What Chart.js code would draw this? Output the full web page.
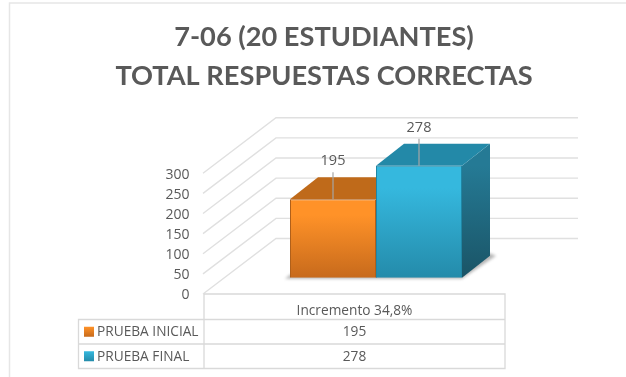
<!DOCTYPE html>
<html>
<head>
<meta charset="utf-8">
<style>
    html, body { margin: 0; padding: 0; background: #fff; }
    canvas { display: block; }
</style>
<script src="https://cdn.jsdelivr.net/npm/chart.js@4"></script>
</head>
<body>
<canvas id="chart" width="626" height="377"></canvas>
<script>
const titleLines = ['7-06 (20 ESTUDIANTES)', 'TOTAL RESPUESTAS CORRECTAS']
const categories = ['Incremento 34,8%']
const seriesNames = ['PRUEBA INICIAL', 'PRUEBA FINAL']
const pruebaInicial = [195]
const pruebaFinal = [278]
const tickValues = [0, 50, 100, 150, 200, 250, 300]

const textColor = '#595959'
const gridColor = '#E0E0E0'
const tableColor = '#D9D9D9'
const labelFont = '13.7px "Open Sans"'
const valueFont = '14.5px "Open Sans"'

// depth of the back wall and of the bars, in pixels
const wallDx = 73
const wallDy = 55.5
const barDx = 28
const barDy = 22

const orange = { top: '#FF9228', bottom: '#C76A1C', cap: '#BF6A1A', sideTop: '#A85C16', sideBottom: '#8A4A12', edge: '#B0601A' }
const blue = { top: '#35B8DE', bottom: '#248BAA', cap: '#2389A8', sideTop: '#257A95', sideBottom: '#1A5466', edge: '#1F86A4' }
const palette = [orange, blue]

function frontGradient(context) {
    const chart = context.chart
    const colors = palette[context.datasetIndex]
    if (!chart.chartArea) return colors.top
    const yScale = chart.scales.yBars
    const value = chart.data.datasets[context.datasetIndex].data[0]
    const g = chart.ctx.createLinearGradient(0, yScale.getPixelForValue(value), 0, yScale.getPixelForValue(0))
    g.addColorStop(0, colors.top)
    g.addColorStop(0.2, colors.top)
    g.addColorStop(1, colors.bottom)
    return g
}

function polygon(ctx, points, fill) {
    ctx.beginPath()
    points.forEach((p, i) => i === 0 ? ctx.moveTo(p[0], p[1]) : ctx.lineTo(p[0], p[1]))
    ctx.closePath()
    ctx.fillStyle = fill
    ctx.fill()
}

const wallPlugin = {
    id: 'wall',
    beforeDatasetsDraw(chart) {
        const ctx = chart.ctx
        const yScale = chart.scales.y
        const left = chart.chartArea.left

        ctx.save()
        // outer frame
        ctx.strokeStyle = '#E6E6E6'
        ctx.lineWidth = 1.5
        ctx.beginPath()
        ctx.moveTo(9.5, 377)
        ctx.lineTo(9.5, 3)
        ctx.lineTo(626, 3)
        ctx.stroke()

        // back wall gridlines and side wall diagonals
        ctx.strokeStyle = gridColor
        ctx.lineWidth = 1.4
        tickValues.forEach(v => {
            const y = yScale.getPixelForValue(v)
            ctx.beginPath()
            ctx.moveTo(left - 1, y)
            ctx.lineTo(left - 1 + wallDx, y - wallDy)
            ctx.lineTo(578, y - wallDy)
            ctx.stroke()
        })
        ctx.restore()

        // faint shadow under the bars
        const first = chart.getDatasetMeta(0).data[0]
        const last = chart.getDatasetMeta(1).data[0]
        ctx.save()
        ctx.filter = 'blur(1.5px)'
        polygon(ctx, [
            [first.x - first.width / 2 - 5, first.base + 1],
            [last.x + last.width / 2, last.base + 1],
            [last.x + last.width / 2 + barDx + 6, last.base - barDy],
            [last.x + last.width / 2 + barDx - 2, last.base - barDy - 3],
            [first.x - first.width / 2, first.base - 3]
        ], '#B5B5B5')
        ctx.restore()

        // top and side faces of each bar
        chart.data.datasets.forEach((ds, i) => {
            const bar = chart.getDatasetMeta(i).data[0]
            const colors = palette[i]
            const l = bar.x - bar.width / 2
            const r = bar.x + bar.width / 2
            const side = ctx.createLinearGradient(0, bar.y, 0, bar.base)
            side.addColorStop(0, colors.sideTop)
            side.addColorStop(1, colors.sideBottom)
            polygon(ctx, [[r, bar.y], [r + barDx, bar.y - barDy], [r + barDx, bar.base - barDy], [r, bar.base]], side)
            polygon(ctx, [[l, bar.y], [l + barDx, bar.y - barDy], [r + barDx, bar.y - barDy], [r, bar.y]], colors.cap)
        })
    },
    afterDraw(chart) {
        const ctx = chart.ctx
        const left = chart.chartArea.left
        const right = left + 301
        const floorY = chart.scales.y.getPixelForValue(0)
        const rows = [floorY, 319.5, 344, 368.5]
        const tableLeft = 78.5
        const center = (left + right) / 2

        ctx.save()

        // value labels with their leader lines
        chart.data.datasets.forEach((ds, i) => {
            const bar = chart.getDatasetMeta(i).data[0]
            ctx.strokeStyle = '#A6A6A6'
            ctx.lineWidth = 1.2
            ctx.beginPath()
            ctx.moveTo(bar.x, bar.y)
            ctx.lineTo(bar.x, bar.y - 27)
            ctx.stroke()
            ctx.fillStyle = textColor
            ctx.font = valueFont
            ctx.textAlign = 'center'
            ctx.textBaseline = 'middle'
            ctx.fillText(String(ds.data[0]), bar.x, bar.y - 38)
        })

        // data table under the chart
        ctx.strokeStyle = tableColor
        ctx.lineWidth = 1.3
        ctx.beginPath()
        ctx.moveTo(left, rows[0])
        ctx.lineTo(right, rows[0])
        ctx.lineTo(right, rows[3])
        ctx.lineTo(tableLeft, rows[3])
        ctx.lineTo(tableLeft, rows[1])
        ctx.lineTo(right, rows[1])
        ctx.moveTo(tableLeft, rows[2])
        ctx.lineTo(right, rows[2])
        ctx.moveTo(left, rows[0])
        ctx.lineTo(left, rows[3])
        ctx.stroke()

        ctx.fillStyle = textColor
        ctx.font = labelFont
        ctx.textBaseline = 'middle'
        ctx.textAlign = 'center'
        ctx.fillText(chart.data.labels[0], center, 311)
        chart.data.datasets.forEach((ds, i) => {
            const y = (rows[i + 1] + rows[i + 2]) / 2
            ctx.textAlign = 'center'
            ctx.fillStyle = textColor
            ctx.fillText(String(ds.data[0]), center, y + 0.7)
            ctx.textAlign = 'left'
            ctx.fillText(ds.label, 97, y + 0.7)

            const swatch = ctx.createLinearGradient(0, y - 5, 0, y + 5)
            swatch.addColorStop(0, palette[i].top)
            swatch.addColorStop(1, palette[i].bottom)
            ctx.fillStyle = swatch
            ctx.fillRect(84, y - 5, 10, 10)
        })
        ctx.restore()
    }
}

new Chart(document.getElementById('chart').getContext('2d'), {
    type: 'bar',
    data: {
        labels: categories,
        datasets: [
            { label: seriesNames[0], data: pruebaInicial, yAxisID: 'yBars', backgroundColor: frontGradient, borderColor: orange.edge, borderWidth: 1 },
            { label: seriesNames[1], data: pruebaFinal, yAxisID: 'yBars', backgroundColor: frontGradient, borderColor: blue.edge, borderWidth: 1 }
        ]
    },
    options: {
        responsive: false,
        animation: false,
        layout: { padding: { left: 100, right: 78, top: 0, bottom: 83 } },
        datasets: { bar: { categoryPercentage: 0.5, barPercentage: 1 } },
        scales: {
            x: { display: false },
            // front axis carrying the tick labels, the values above 300 are only room for the depth
            y: {
                position: 'left',
                min: 0,
                max: 439,
                afterFit(scale) { scale.width = 104 },
                afterBuildTicks(scale) { scale.ticks = tickValues.map(v => ({ value: v })) },
                grid: { display: false, drawTicks: false },
                border: { display: false },
                ticks: { color: textColor, font: { family: 'Open Sans', size: 14 }, padding: 14.5, labelOffset: 1.5 }
            },
            // the bars stand further back on the floor than the front axis
            yBars: { display: false, min: -40.4, max: 398.6 }
        },
        plugins: {
            legend: { display: false },
            tooltip: { enabled: false },
            title: {
                display: true,
                text: titleLines,
                color: textColor,
                font: { family: 'Lato', size: 27.2, weight: 'bold', lineHeight: 1.42 },
                padding: { top: 18, bottom: 22 }
            }
        }
    },
    plugins: [wallPlugin]
})
</script>
</body>
</html>
